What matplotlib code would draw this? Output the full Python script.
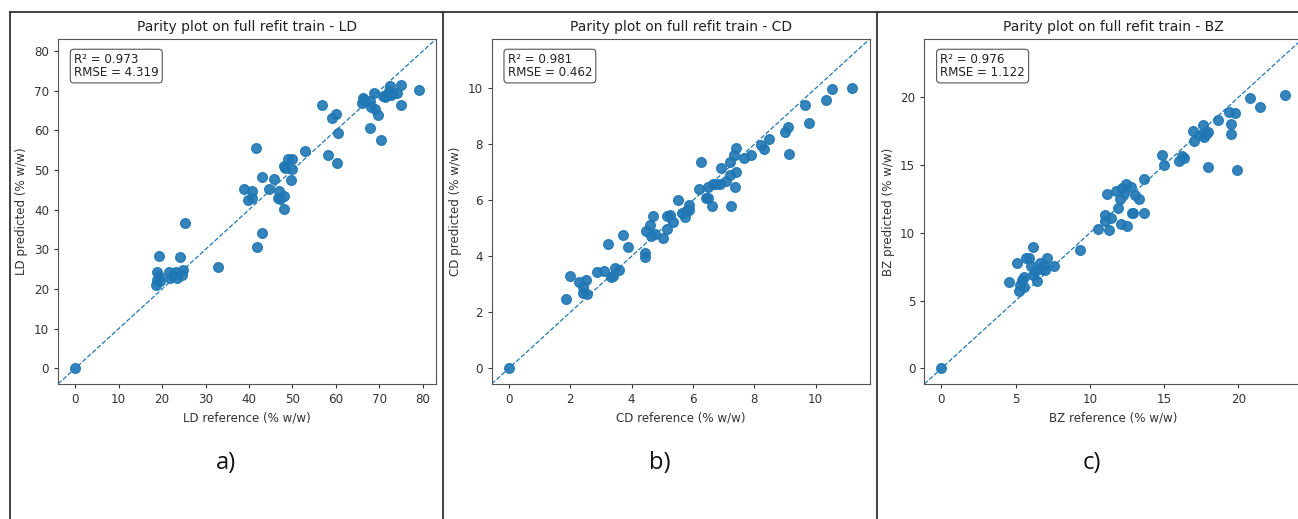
import numpy as np
import matplotlib.pyplot as plt
from matplotlib.lines import Line2D

# reference vs predicted values
ld_ref = [0, 18.5, 18.9, 18.8, 19.4, 19.2, 19.6, 21.7, 21.8, 22.5, 23.2, 23.4, 24.2, 24.7, 24.8,
          25.3, 32.9, 38.8, 39.7, 40.6, 40.8, 41.6, 41.8, 43.0, 43.1, 44.5, 45.7, 46.6, 46.9,
          47.1, 48.1, 48.1, 48.0, 48.4, 49.1, 49.8, 49.6, 50.0, 52.8, 56.8, 58.3, 59.2, 60.0,
          60.3, 60.5, 66.1, 66.3, 66.5, 67.8, 67.9, 68.2, 68.8, 69.0, 69.8, 70.5, 70.8, 71.3,
          71.7, 72.3, 72.5, 72.8, 73.1, 74.0, 74.9, 74.9, 79.1]
ld_pred = [0, 20.9, 22.3, 24.3, 23.3, 28.4, 22.1, 24.2, 22.7, 23.5, 24.2, 22.8, 28.2, 23.6, 24.7,
           36.7, 25.6, 45.3, 42.4, 44.6, 43.0, 55.6, 30.7, 34.2, 48.3, 45.3, 47.8, 42.9, 44.8,
           42.7, 40.1, 43.5, 51.1, 50.6, 52.7, 52.9, 47.5, 50.2, 54.7, 66.3, 53.7, 63.1, 64.2,
           51.8, 59.4, 66.8, 68.3, 67.8, 60.5, 67.3, 66.0, 69.5, 65.3, 63.8, 57.5, 68.8, 68.5,
           68.9, 70.0, 71.2, 68.9, 69.5, 69.5, 71.4, 66.3, 70.3]

cd_ref = [0, 1.87, 1.98, 2.30, 2.43, 2.43, 2.51, 2.56, 2.87, 3.11, 3.24, 3.33, 3.41, 3.46, 3.60,
          3.72, 3.88, 4.43, 4.43, 4.48, 4.60, 4.64, 4.70, 4.75, 5.02, 5.15, 5.16, 5.26, 5.34,
          5.52, 5.64, 5.75, 5.77, 5.86, 5.86, 6.20, 6.26, 6.43, 6.48, 6.50, 6.61, 6.65, 6.76,
          6.87, 6.92, 7.09, 7.20, 7.20, 7.25, 7.33, 7.38, 7.39, 7.39, 7.67, 7.89, 8.22, 8.30,
          8.47, 9.00, 9.11, 9.14, 9.65, 9.79, 10.34, 10.54, 11.20]
cd_pred = [0, 2.49, 3.28, 3.10, 2.92, 2.69, 3.16, 2.66, 3.45, 3.48, 4.45, 3.26, 3.28, 3.57, 3.52,
           4.77, 4.34, 4.11, 3.97, 4.90, 5.11, 4.73, 5.45, 4.79, 4.67, 4.97, 5.45, 5.48, 5.23,
           6.00, 5.54, 5.42, 5.61, 5.66, 5.84, 6.40, 7.38, 6.08, 6.47, 6.08, 5.78, 6.58, 6.58,
           6.58, 7.16, 6.69, 6.90, 7.38, 5.78, 7.62, 6.49, 7.00, 7.87, 7.51, 7.61, 7.97, 7.82,
           8.18, 8.43, 8.61, 7.67, 9.41, 8.76, 9.57, 9.96, 10.00]

bz_ref = [0, 4.54, 5.11, 5.22, 5.31, 5.42, 5.53, 5.53, 5.71, 5.87, 6.05, 6.14, 6.16, 6.28, 6.43,
          6.64, 6.73, 6.91, 6.95, 7.13, 7.56, 9.34, 10.57, 11.0, 11.0, 11.18, 11.27, 11.45,
          11.77, 11.90, 12.04, 12.08, 12.13, 12.31, 12.42, 12.53, 12.80, 12.85, 12.91, 13.03,
          13.32, 13.61, 13.66, 14.85, 15.01, 16.0, 16.22, 16.33, 16.96, 17.03, 17.41, 17.64,
          17.68, 17.82, 17.93, 17.98, 18.63, 19.35, 19.51, 19.51, 19.80, 19.89, 20.76, 21.46, 23.15]
bz_pred = [0, 6.36, 7.81, 5.72, 6.12, 6.54, 6.00, 6.71, 8.13, 8.18, 7.52, 8.99, 6.90, 7.15, 6.41,
           7.81, 7.32, 7.64, 7.27, 8.18, 7.52, 8.70, 10.32, 11.33, 10.88, 12.85, 10.22, 11.08,
           13.10, 11.82, 12.53, 10.64, 13.34, 12.92, 13.64, 10.54, 13.42, 11.50, 11.50, 12.80,
           12.53, 13.98, 11.45, 15.75, 15.04, 15.31, 15.68, 15.53, 17.52, 16.81, 17.22, 17.94,
           17.08, 17.30, 17.44, 14.84, 18.30, 18.94, 18.06, 17.32, 18.82, 14.62, 19.95, 19.31, 20.17]

targets = ['LD', 'CD', 'BZ']
r2_scores = [0.973, 0.981, 0.976]
rmse_scores = [4.319, 0.462, 1.122]
panel_tags = ['a)', 'b)', 'c)']
tick_steps = [10, 2, 5]

refs = [ld_ref, cd_ref, bz_ref]
preds = [ld_pred, cd_pred, bz_pred]

fig = plt.figure(figsize=(12.98, 5.19), dpi=100)
lefts = [0.0447, 0.3788, 0.7121]
tag_x = [0.174, 0.508, 0.841]

for i in range(3):
    ax = fig.add_axes([lefts[i], 0.2601, 0.2912, 0.6647])
    y_true = np.array(refs[i])
    y_pred = np.array(preds[i])
    lo = min(y_true.min(), y_pred.min())
    hi = max(y_true.max(), y_pred.max())
    pad = 0.05 * (hi - lo)
    lims = [lo - pad, hi + pad]
    ax.scatter(y_true, y_pred, s=48, color='#1f77b4', alpha=0.9, zorder=3)
    ax.plot(lims, lims, '--', color='#1f77b4', lw=0.9)
    ax.set_xlim(lims)
    ax.set_ylim(lims)
    ax.xaxis.set_major_locator(plt.MultipleLocator(tick_steps[i]))
    ax.yaxis.set_major_locator(plt.MultipleLocator(tick_steps[i]))
    ax.tick_params(labelsize=8.6, colors='#333333', length=3)
    for sp in ax.spines.values():
        sp.set_color('#555555')
    ax.set_title('Parity plot on full refit train - ' + targets[i], fontsize=10, color='#222222')
    ax.set_xlabel(targets[i] + ' reference (% w/w)', fontsize=8.6, color='#333333')
    ax.set_ylabel(targets[i] + ' predicted (% w/w)', fontsize=8.6, color='#333333')
    ax.text(0.042, 0.96, 'R\u00b2 = {:.3f}\nRMSE = {:.3f}'.format(r2_scores[i], rmse_scores[i]),
            transform=ax.transAxes, ha='left', va='top', fontsize=8.6, color='#222222',
            linespacing=1.05,
            bbox=dict(boxstyle='round,pad=0.3', facecolor='white', edgecolor='#555555', lw=0.8))
    fig.text(tag_x[i], 0.108, panel_tags[i], ha='center', va='center', fontsize=17,
             family='Open Sans', color='#111111')

# panel frame lines of the composite figure
for x in [0.0077, 0.3413, 0.6757]:
    fig.add_artist(Line2D([x, x], [0, 0.977], color='#333333', lw=1.3))
fig.add_artist(Line2D([0.0077, 1.0], [0.977, 0.977], color='#333333', lw=1.3))

plt.savefig('out.png', dpi=100)
